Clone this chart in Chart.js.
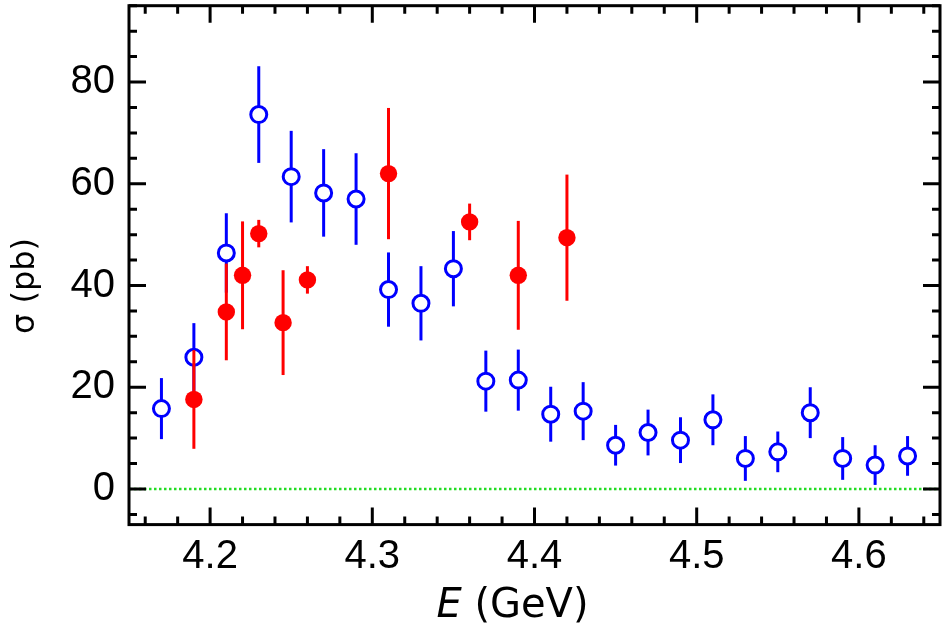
<!DOCTYPE html>
<html><head><meta charset="utf-8">
<script src="https://cdn.jsdelivr.net/npm/chart.js@4/dist/chart.umd.min.js"></script>
<style>html,body{margin:0;padding:0;background:#fff}</style>
</head><body>
<canvas id="c" width="944" height="630" style="width:944px;height:630px;display:block"></canvas>
<script>
// ---- data ----
const blueE   = [4.17, 4.19, 4.21, 4.23, 4.25, 4.27, 4.29, 4.31, 4.33, 4.35, 4.37, 4.39,
                 4.41, 4.43, 4.45, 4.47, 4.49, 4.51, 4.53, 4.55, 4.57, 4.59, 4.61, 4.63];
const blueSig = [15.8, 25.9, 46.4, 73.6, 61.4, 58.2, 57.0, 39.2, 36.5, 43.3, 21.2, 21.4,
                 14.7, 15.3, 8.6, 11.1, 9.6, 13.6, 6.0, 7.3, 15.0, 6.0, 4.7, 6.5];
const blueErr = [6.0, 6.7, 7.8, 9.5, 9.0, 8.6, 9.0, 7.3, 7.3, 7.4, 6.0, 6.0,
                 5.4, 5.7, 4.0, 4.5, 4.5, 5.0, 4.4, 4.0, 5.0, 4.2, 3.9, 3.9];

const redE   = [4.19, 4.21, 4.22, 4.23, 4.245, 4.26, 4.31, 4.36, 4.39, 4.42];
const redSig = [17.6, 34.8, 42.0, 50.2, 32.7, 41.1, 62.0, 52.5, 42.0, 49.4];
const redErr = [9.7, 9.5, 10.6, 2.7, 10.3, 2.7, 12.9, 3.6, 10.7, 12.4];

const xTickVals = [4.2, 4.3, 4.4, 4.5, 4.6];
const yTickVals = [0, 20, 40, 60, 80];
const xRange = [4.15, 4.65];
const yRange = [-7, 95];
const xMinorStep = 0.02;
const yMinorStep = 5;
const zeroLine = [0, 0];

const xTitleItalic = "E";
const xTitleRest = " (GeV)";
const yTitle = "σ (pb)";

const BLUE = '#0000ff', RED = '#ff0000', GREEN = '#22dd22';

const errs = [redErr, blueErr, null];

const errorBars = {
  id: 'errorBars',
  beforeDatasetDraw(chart, args) {
    const e = errs[args.index];
    if (!e) return;
    const ds = chart.data.datasets[args.index];
    const xs = chart.scales.x, ys = chart.scales.y;
    const ctx = chart.ctx;
    ctx.save();
    ctx.strokeStyle = ds.borderColor;
    ctx.lineWidth = 3;
    ctx.lineCap = 'butt';
    ds.data.forEach((p, i) => {
      const px = xs.getPixelForValue(p.x);
      ctx.beginPath();
      ctx.moveTo(px, ys.getPixelForValue(p.y - e[i]));
      ctx.lineTo(px, ys.getPixelForValue(p.y + e[i]));
      ctx.stroke();
    });
    ctx.restore();
  }
};

const frame = {
  id: 'frame',
  afterDraw(chart) {
    const ctx = chart.ctx, a = chart.chartArea;
    const xs = chart.scales.x, ys = chart.scales.y;
    ctx.save();
    ctx.strokeStyle = '#000';
    ctx.lineWidth = 3;
    const MAJ = 17, MIN = 8;
    ctx.beginPath();
    const nX = Math.round((xRange[1] - xRange[0]) / xMinorStep) + 2;
    const x0 = Math.ceil(xRange[0] / xMinorStep - 1e-6) * xMinorStep;
    for (let k = 0; k < nX; k++) {
      const v = x0 + xMinorStep * k;
      if (v > xRange[1] + 1e-9) break;
      const isMaj = xTickVals.some(m => Math.abs(m - v) < 1e-6);
      const px = xs.getPixelForValue(v);
      const L = isMaj ? MAJ : MIN;
      ctx.moveTo(px, a.bottom); ctx.lineTo(px, a.bottom - L);
      ctx.moveTo(px, a.top); ctx.lineTo(px, a.top + L);
    }
    for (let v = Math.ceil(yRange[0] / yMinorStep) * yMinorStep; v <= yRange[1]; v += yMinorStep) {
      const isMaj = yTickVals.includes(v);
      const py = ys.getPixelForValue(v);
      const L = isMaj ? MAJ : MIN;
      ctx.moveTo(a.left, py); ctx.lineTo(a.left + L, py);
      ctx.moveTo(a.right, py); ctx.lineTo(a.right - L, py);
    }
    ctx.stroke();
    ctx.strokeRect(a.left, a.top, a.right - a.left, a.bottom - a.top);

    // axis titles
    ctx.fillStyle = '#000';
    ctx.textBaseline = 'alphabetic';
    const fs = 40;
    ctx.font = 'italic ' + fs + 'px "DejaVu Sans"';
    const w1 = ctx.measureText(xTitleItalic).width;
    ctx.font = fs + 'px "DejaVu Sans"';
    const w2 = ctx.measureText(xTitleRest).width;
    const cx = (a.left + a.right) / 2 - 22;
    const sx = cx - (w1 + w2) / 2;
    ctx.font = 'italic ' + fs + 'px "DejaVu Sans"';
    ctx.fillText(xTitleItalic, sx, 617);
    ctx.font = fs + 'px "DejaVu Sans"';
    ctx.fillText(xTitleRest, sx + w1, 617);

    ctx.translate(26, 286);
    ctx.rotate(-Math.PI / 2);
    ctx.font = '32px "DejaVu Sans"';
    ctx.textAlign = 'center';
    ctx.textBaseline = 'middle';
    ctx.fillText(yTitle, 0, 0);
    ctx.restore();
  }
};

const noPad = s => { s.paddingTop = 0; s.paddingBottom = 0; s.paddingLeft = 0; s.paddingRight = 0; };

new Chart(document.getElementById('c'), {
  type: 'scatter',
  data: {
    datasets: [
      {
        label: 'red',
        data: redE.map((x, i) => ({ x, y: redSig[i] })),
        borderColor: RED, backgroundColor: RED,
        pointRadius: 8.7, pointBorderWidth: 0, showLine: false, order: 1
      },
      {
        label: 'blue',
        data: blueE.map((x, i) => ({ x, y: blueSig[i] })),
        borderColor: BLUE, backgroundColor: '#ffffff',
        pointRadius: 8, pointBorderWidth: 3, showLine: false, order: 2
      },
      {
        type: 'line',
        label: 'zero',
        data: xRange.map((x, i) => ({ x, y: zeroLine[i] })),
        borderColor: GREEN, borderWidth: 2.5, borderDash: [2.5, 2.5],
        pointRadius: 0, showLine: true, fill: false, order: 3
      }
    ]
  },
  options: {
    responsive: false,
    animation: false,
    devicePixelRatio: 1,
    layout: { autoPadding: false, padding: { top: 5.7, right: 4, left: 0, bottom: 0 } },
    plugins: { legend: { display: false }, tooltip: { enabled: false } },
    scales: {
      x: {
        type: 'linear', min: xRange[0], max: xRange[1],
        grid: { display: false, drawTicks: false },
        border: { display: false },
        afterBuildTicks: s => { s.ticks = xTickVals.map(v => ({ value: v })); },
        afterFit: s => { s.height = 105.4; noPad(s); },
        ticks: {
          padding: 8, color: '#000', maxRotation: 0, autoSkip: false,
          font: { family: '"Liberation Sans", Arial', size: 40 },
          callback: v => Number(v).toFixed(1)
        }
      },
      y: {
        type: 'linear', min: yRange[0], max: yRange[1],
        grid: { display: false, drawTicks: false },
        border: { display: false },
        afterBuildTicks: s => { s.ticks = yTickVals.map(v => ({ value: v })); },
        afterFit: s => { s.width = 129; noPad(s); },
        ticks: {
          padding: 14, color: '#000', autoSkip: false,
          font: { family: '"Liberation Sans", Arial', size: 40 },
          callback: v => String(v)
        }
      }
    }
  },
  plugins: [errorBars, frame]
});
</script>
</body></html>
